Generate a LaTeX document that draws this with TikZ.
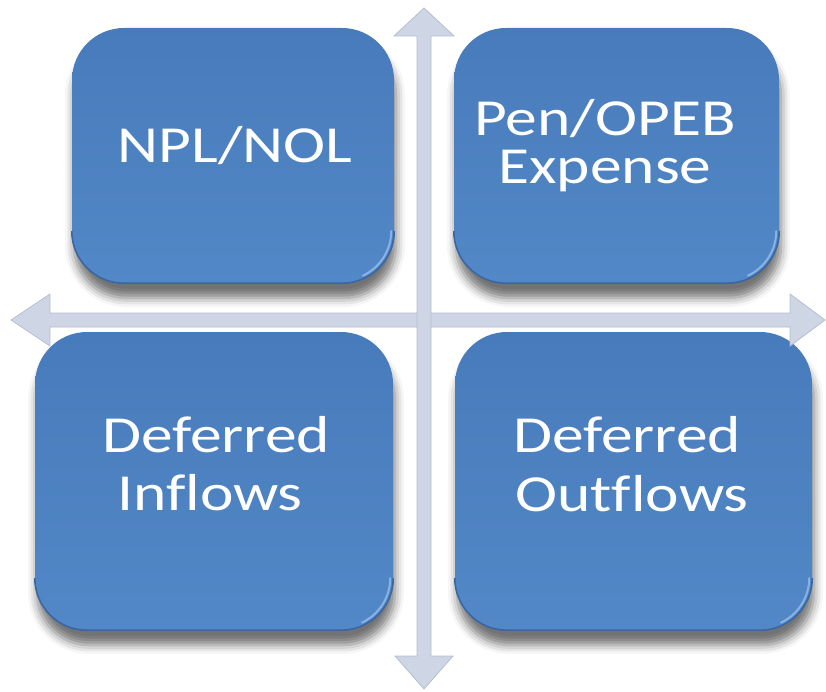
\documentclass[tikz,border=0pt]{standalone}
\usepackage{fontspec}
\setmainfont{Carlito}[Ligatures=CommonOff]
\usetikzlibrary{shadows.blur}
\definecolor{boxtop}{RGB}{72,123,187}
\definecolor{boxbot}{RGB}{82,136,199}
\definecolor{boxrim}{RGB}{58,102,162}
\definecolor{boxshine}{RGB}{150,190,235}
\definecolor{arrowfill}{RGB}{206,213,228}
\definecolor{arrowrim}{RGB}{182,190,207}
\newcommand\wide[1]{\scalebox{1.22}[1]{#1}}
\begin{document}
\begin{tikzpicture}[x=1pt,y=-1pt,
  card/.style={rectangle, rounded corners=52pt, top color=boxtop, bottom color=boxbot,
    inner sep=0pt,
    blur shadow={shadow xshift=2pt, shadow yshift=-15pt, shadow blur radius=9pt, shadow opacity=55}},
  rim/.style={draw=boxrim, line width=1.6pt, rounded corners=52pt},
  shine/.style={draw=boxshine, line width=2pt, line cap=round, opacity=0.8},
  label/.style={text=white, anchor=base, inner sep=0pt, align=center,
    font=\fontsize{52}{48}\selectfont},
  bar/.style={fill=arrowfill, draw=arrowrim, line width=0.8pt, line join=miter}]
\useasboundingbox (0,0) rectangle (826,692);

% four quadrant cards with a darker lower rim and a lit lower-right corner
\foreach \n/\x/\y/\w/\h in {tl/233/155.5/322/255, tr/616.5/155.5/325/255,
                             bl/214/481/358/298, br/633.5/481/357/298}{
  \node[card, minimum width=\w pt, minimum height=\h pt] (\n) at (\x,\y) {};
  \path[rim] ([yshift=52pt]\n.south west) -- (\n.south west) -- (\n.south east)
    -- ([yshift=52pt]\n.south east);
  \draw[shine] ([shift={(-3pt,52pt)}]\n.south east) arc[start angle=0, end angle=-65, radius=49pt];
}

% axis cross: horizontal double arrow, then vertical double arrow
\coordinate (west) at (11,320);
\coordinate (east) at (825,320);
\coordinate (north) at (424,8);
\coordinate (south) at (424,689);
\path[bar] (west) -- ++(39,-26) -- ++(0,19) -- (790,313) -- ++(0,-19)
  -- (east) -- (790,346) -- ++(0,-19) -- (50,327) -- ++(0,19) -- cycle;
\path[bar] (north) -- ++(30,28) -- ++(-23,0) -- (431,656) -- ++(22,0)
  -- (south) -- (395,656) -- ++(22,0) -- (417,36) -- ++(-23,0) -- cycle;

% labels
\node[label] (npl) at (235,163) {\wide{NPL/NOL}};
\node[label] (pen) at (605,184) {\wide{Pen/OPEB}\\\wide{Expense}};
\node[label] (din) at (216,452) {\wide{Deferred}};
\node[label] (inf) at (210,510) {\wide{Inflows}};
\node[label] (dout) at (627,452) {\wide{Deferred}};
\node[label] (outf) at (632,511) {\wide{Outflows}};
\end{tikzpicture}
\end{document}
